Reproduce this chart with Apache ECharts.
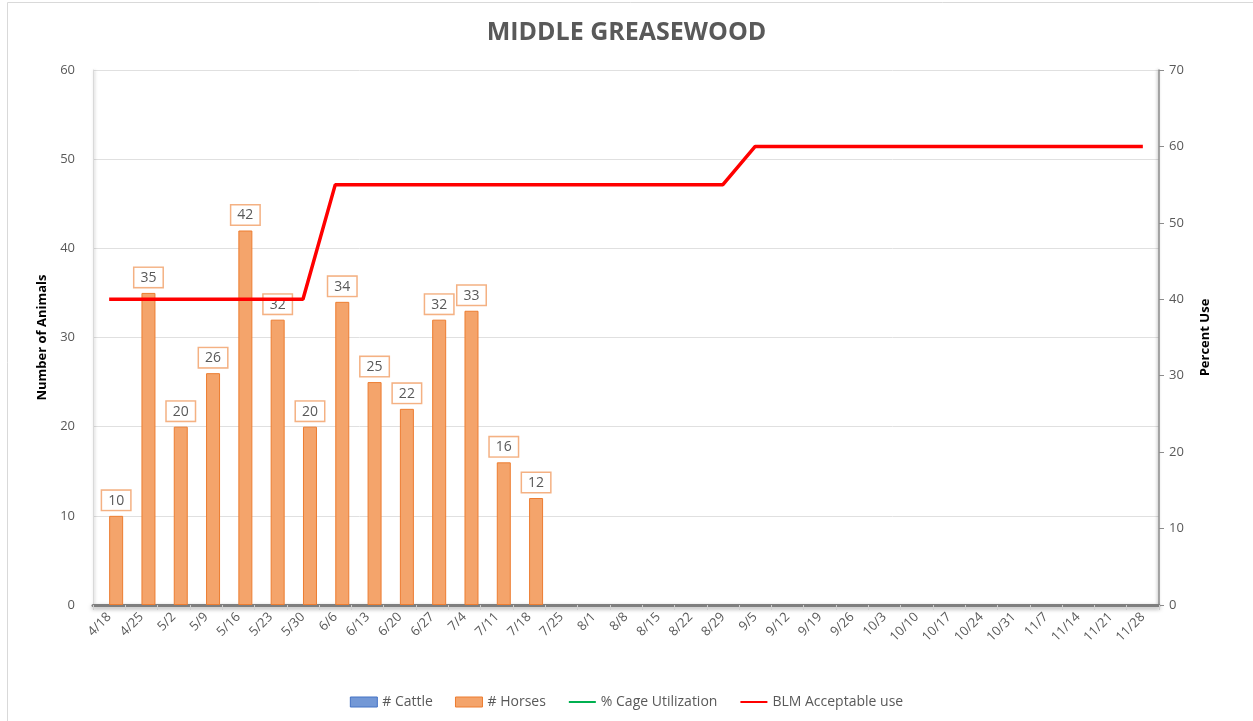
<!DOCTYPE html>
<html>
<head>
<meta charset="utf-8">
<script src="https://cdn.jsdelivr.net/npm/echarts@6/dist/echarts.min.js"></script>
<style>
  html, body { margin: 0; padding: 0; background: #fff; }
  #main { width: 1253px; height: 721px; }
</style>
</head>
<body>
<div id="main"></div>
<script>
// week labels
var weeks = ['4/18', '4/25', '5/2', '5/9', '5/16', '5/23', '5/30', '6/6', '6/13', '6/20', '6/27', '7/4',
  '7/11', '7/18', '7/25', '8/1', '8/8', '8/15', '8/22', '8/29', '9/5', '9/12', '9/19', '9/26',
  '10/3', '10/10', '10/17', '10/24', '10/31', '11/7', '11/14', '11/21', '11/28']

// counts (blank weeks are null)
var cattle = [null, null, null, null, null, null, null, null, null, null, null, null, null, null, null, null, null,
  null, null, null, null, null, null, null, null, null, null, null, null, null, null, null, null]
var horses = [10, 35, 20, 26, 42, 32, 20, 34, 25, 22, 32, 33, 16, 12, null, null, null, null, null, null,
  null, null, null, null, null, null, null, null, null, null, null, null, null]

// percent series
var cageUtil = []
var blmUse = [40, 40, 40, 40, 40, 40, 40, 55, 55, 55, 55, 55, 55, 55, 55, 55, 55, 55, 55, 55,
  60, 60, 60, 60, 60, 60, 60, 60, 60, 60, 60, 60, 60]

var textGray = '#595959'
var font = 'Open Sans'

var myChart = echarts.init(document.getElementById('main'))
myChart.setOption({
  animation: false,
  textStyle: { fontFamily: font },
  // chart area frame (right/bottom edges run off the picture)
  graphic: [{
    type: 'rect',
    silent: true,
    shape: { x: 7.5, y: 2.5, width: 1400, height: 900 },
    style: { fill: 'none', stroke: '#d9d9d9', lineWidth: 1 }
  }],
  title: {
    text: 'MIDDLE GREASEWOOD',
    left: 'center',
    top: 15,
    textStyle: { color: textGray, fontSize: 25, fontWeight: 'bold', fontFamily: font }
  },
  legend: {
    bottom: 7,
    left: 'center',
    itemGap: 22,
    itemWidth: 27,
    itemHeight: 10,
    textStyle: { color: textGray, fontSize: 14 },
    data: [
      { name: '# Cattle', icon: 'rect', itemStyle: { color: '#7398d6', borderColor: '#4472C4', borderWidth: 1 } },
      { name: '# Horses', icon: 'rect', itemStyle: { color: '#f4a46b', borderColor: '#ED7D31', borderWidth: 1 } },
      { name: '% Cage Utilization', itemStyle: { opacity: 0 } },
      { name: 'BLM Acceptable use', itemStyle: { opacity: 0 } }
    ]
  },
  grid: { left: 93, right: 94, top: 70, bottom: 116 },
  xAxis: {
    type: 'category',
    data: weeks,
    axisLine: {
      lineStyle: { color: '#7f7f7f', width: 3, shadowColor: 'rgba(0,0,0,0.35)', shadowBlur: 4, shadowOffsetY: 2 }
    },
    axisTick: { show: true, length: 5, lineStyle: { color: '#d0d0d0' } },
    axisLabel: { rotate: 45, color: textGray, fontSize: 13, margin: 10 }
  },
  yAxis: [
    {
      type: 'value',
      min: 0,
      max: 60,
      interval: 10,
      name: 'Number of Animals',
      nameLocation: 'middle',
      nameGap: 34,
      nameTextStyle: { color: '#000', fontWeight: 'bold', fontSize: 13 },
      axisLine: { show: true, lineStyle: { color: '#d9d9d9', width: 1, shadowColor: 'rgba(0,0,0,0.25)', shadowBlur: 3, shadowOffsetX: 1 } },
      axisTick: { show: false },
      axisLabel: { color: textGray, fontSize: 13, margin: 18 },
      splitLine: { lineStyle: { color: '#e0e0e0' } }
    },
    {
      type: 'value',
      min: 0,
      max: 70,
      interval: 10,
      name: 'Percent Use',
      nameLocation: 'middle',
      nameGap: 40,
      nameTextStyle: { color: '#000', fontWeight: 'bold', fontSize: 13 },
      axisLine: { show: true, lineStyle: { color: '#8c8c8c', width: 1.5, shadowColor: 'rgba(0,0,0,0.3)', shadowBlur: 3, shadowOffsetX: -1 } },
      axisTick: { show: true, length: 5, lineStyle: { color: '#8c8c8c' } },
      axisLabel: { color: textGray, fontSize: 13, margin: 10 },
      splitLine: { show: false }
    }
  ],
  series: [
    {
      name: '# Cattle',
      type: 'bar',
      data: cattle,
      barWidth: 14,
      barGap: '0%',
      itemStyle: { color: '#7398d6', borderColor: '#4472C4', borderWidth: 1 }
    },
    {
      name: '# Horses',
      type: 'bar',
      data: horses,
      barWidth: 14,
      itemStyle: { color: '#f4a46b', borderColor: '#ED7D31', borderWidth: 1 },
      label: {
        show: true,
        position: 'top',
        distance: 6,
        color: textGray,
        fontSize: 14,
        backgroundColor: '#fff',
        borderColor: '#f4b183',
        borderWidth: 1.5,
        padding: [3, 6, 2, 6]
      }
    },
    {
      name: '% Cage Utilization',
      type: 'line',
      yAxisIndex: 1,
      data: cageUtil,
      symbol: 'none',
      itemStyle: { color: '#00B050' },
      lineStyle: { color: '#00B050', width: 3 }
    },
    {
      name: 'BLM Acceptable use',
      type: 'line',
      yAxisIndex: 1,
      data: blmUse,
      symbol: 'none',
      z: 5,
      itemStyle: { color: '#FF0000' },
      lineStyle: { color: '#FF0000', width: 3.5 }
    }
  ]
})
window.onresize = function () {
  myChart.resize()
}
</script>
</body>
</html>
